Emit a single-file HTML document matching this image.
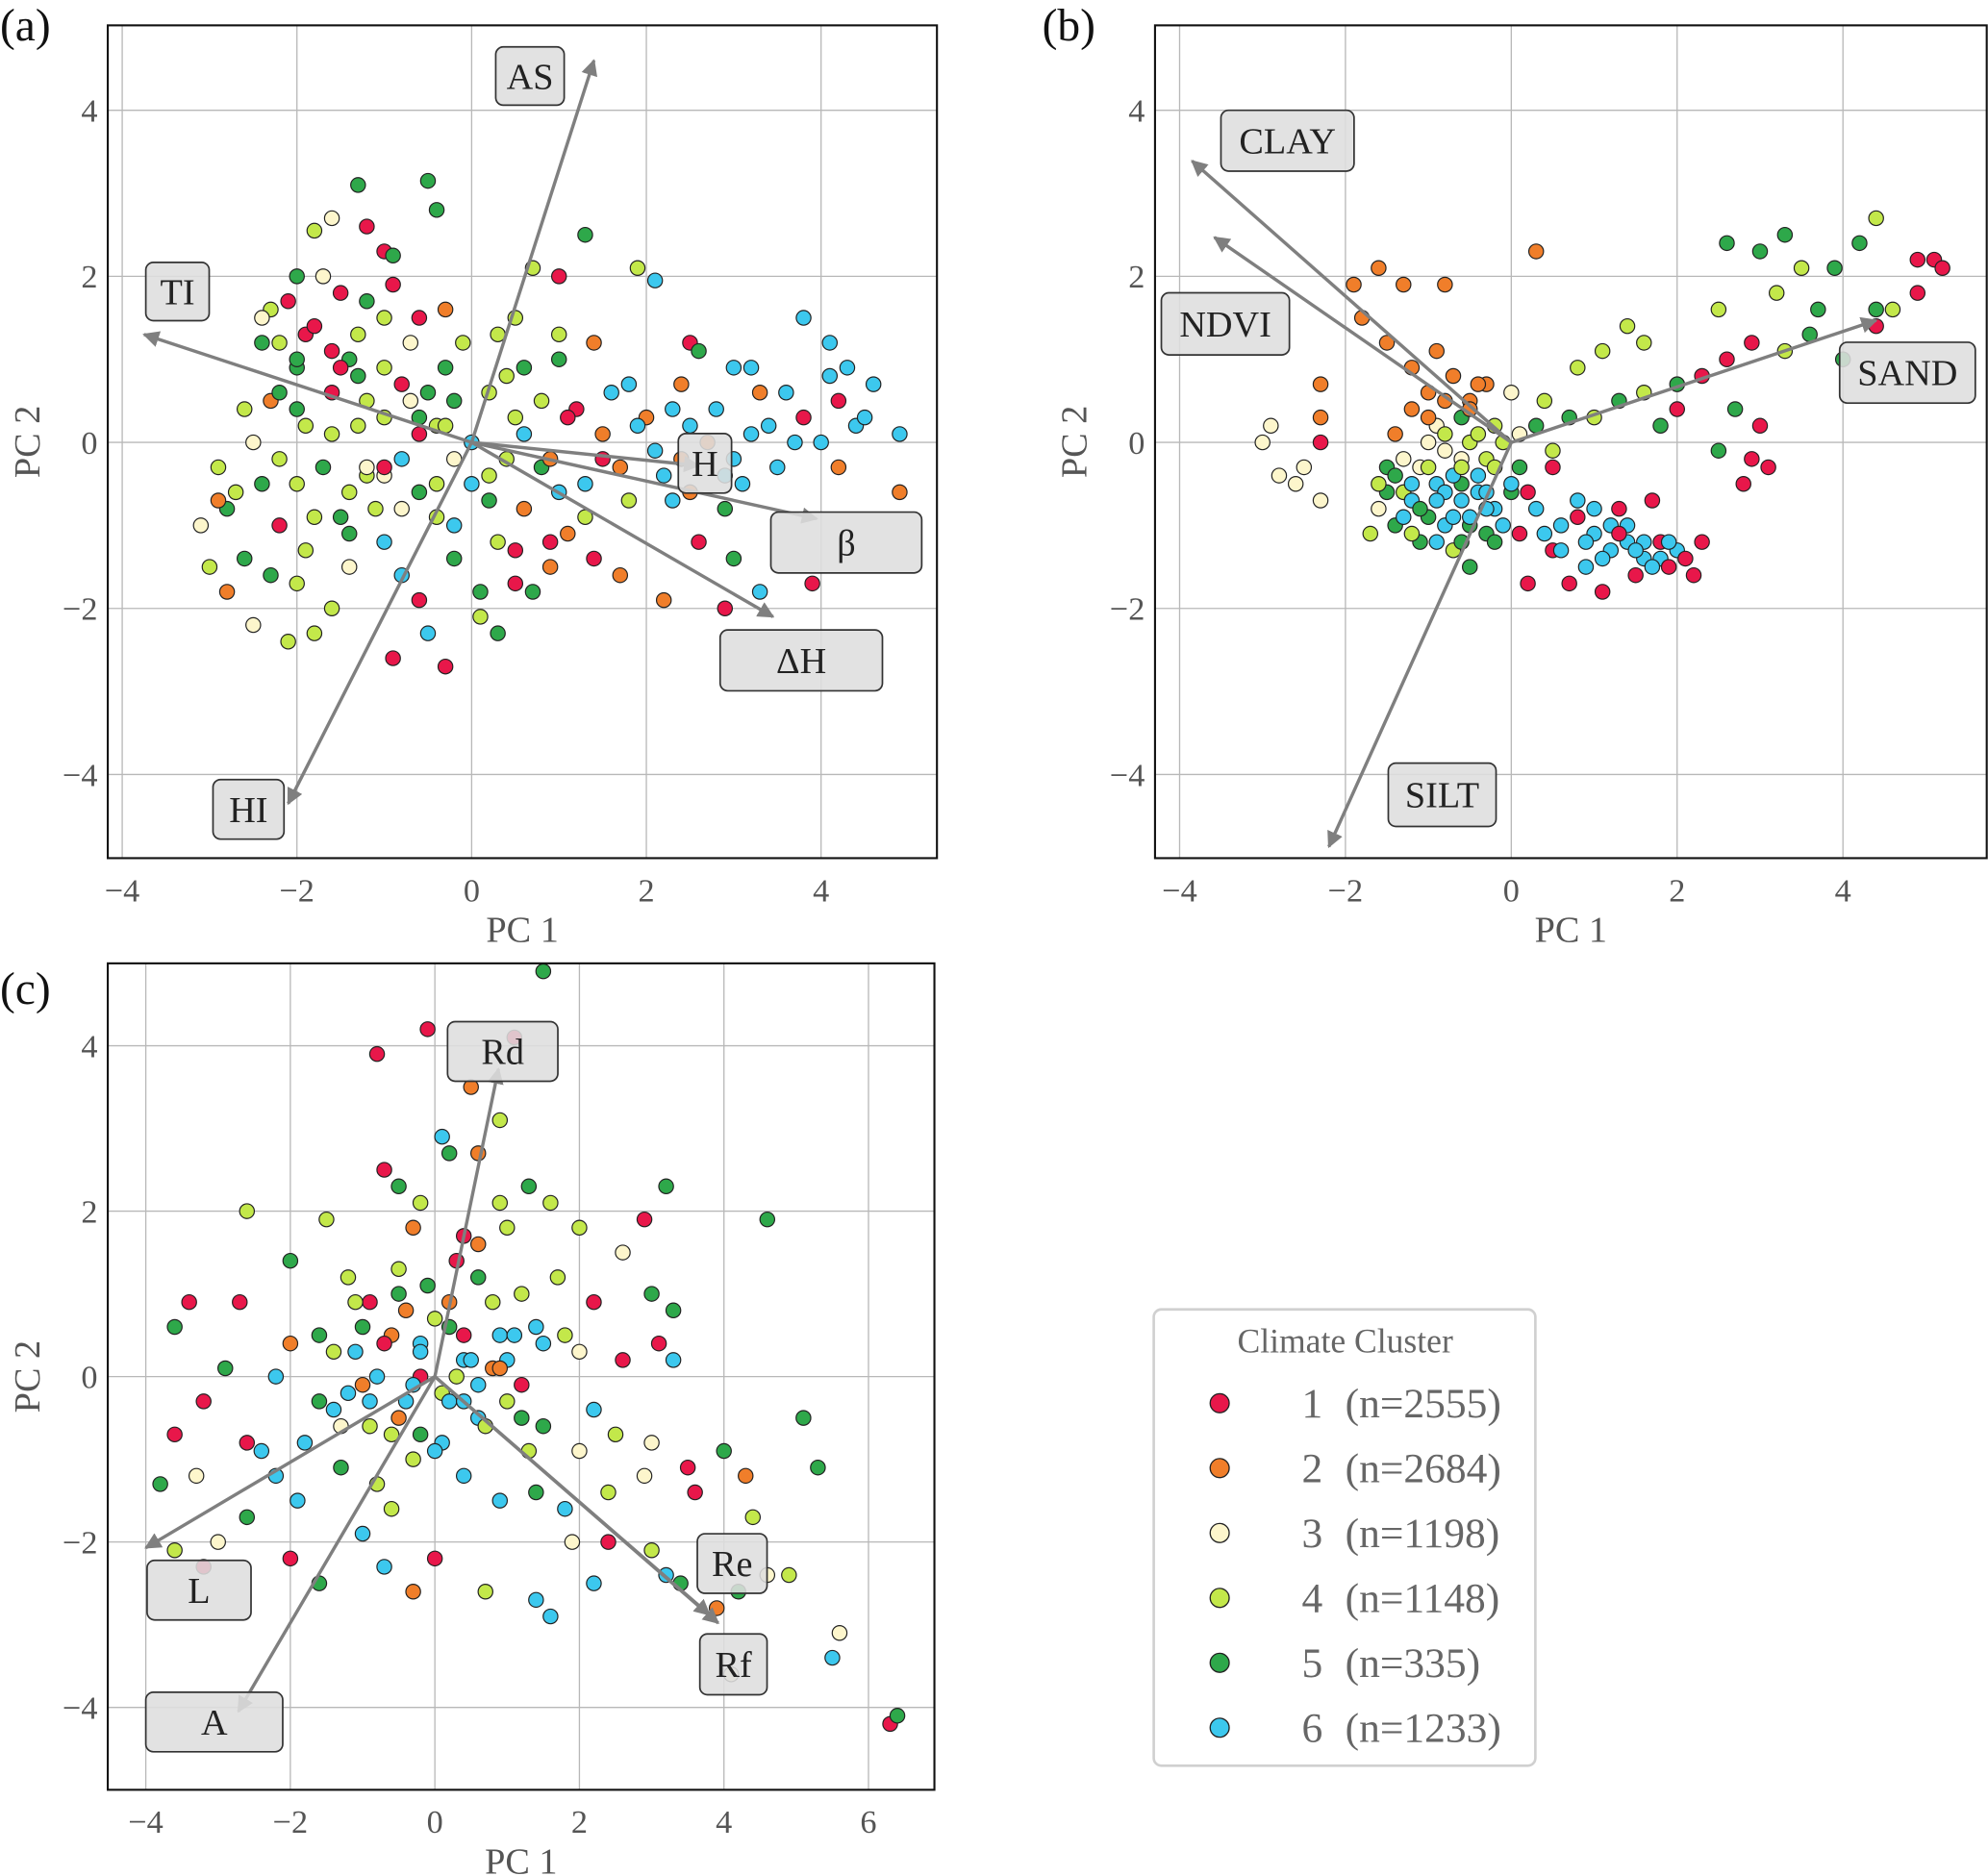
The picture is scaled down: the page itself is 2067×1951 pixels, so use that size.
<!DOCTYPE html>
<html><head><meta charset="utf-8">
<style>
html,body{margin:0;padding:0;background:#fff}
svg{display:block;font-family:"Liberation Serif",serif}
</style></head>
<body>
<svg id="fig" width="2067" height="1951" viewBox="0 0 1568 1480" xmlns="http://www.w3.org/2000/svg">
<defs>
<marker id="ah" viewBox="0 0 10 10" refX="9" refY="5" markerWidth="5" markerHeight="5" orient="auto-start-reverse">
<path d="M0,0 L10,5 L0,10 z" fill="#7f7f7f"/></marker>
</defs>
</svg>
<script>
const colors=["#e8174a","#f07e2a","#fdf6cc","#c3e84a","#2ea84a","#3cc8ee"];
// Panel (a) data
const aX=[-1.3,-0.5,-0.4,-1.6,-1.2,-1.8,-1.0,-0.9,1.3,-2.0,-2.3,-1.5,-1.2,-0.6,-0.3,0.5,0.7,1.0,1.9,2.1,1.4,1.0,2.5,2.6,3.2,3.0,3.8,4.1,4.3,4.6,4.4,4.9,3.8,4.2,4.9,3.5,3.2,2.3,1.8,2.0,1.5,1.2,2.2,2.9,3.0,2.6,3.9,3.3,2.9,2.2,1.7,1.4,0.7,0.3,-0.3,-0.9,-0.5,0.1,0.5,-0.2,-1.0,-1.4,-1.6,-1.8,-2.1,-2.5,-2.8,-3.0,-3.1,-2.8,-2.6,-2.2,-2.0,-1.7,-2.5,-2.9,-2.3,-2.0,-1.6,-1.3,-1.0,-0.7,-0.3,0.2,0.0,0.4,0.8,1.0,0.6,0.2,-0.4,-0.8,-1.2,0.9,1.3,1.8,2.4,2.8,3.6,-2.4,-1.9,-2.2,-1.5,-0.6,0.5,1.1,-0.2,0.9,2.5,3.0,4.0,-1.0,-0.1,0.6,
-2.2,-2.0,-1.8,-1.6,-1.4,-1.2,-1.0,-0.8,-0.6,-0.4,-0.2,0.2,0.4,0.6,0.8,
-2.6,-2.4,-2.2,-2.0,-1.8,-1.6,-1.4,-1.2,-1.0,-0.8,-0.6,-0.4,-0.2,0.0,0.3,
-2.7,-2.3,-1.9,-1.5,-1.1,-0.7,-0.3,0.1,0.5,0.9,1.3,1.7,2.1,2.5,2.9,3.3,3.7,4.1,4.5,
3.1,2.7,2.3,1.9,1.5,1.1,
-2.1,-1.7,-1.3,-0.9,-0.5,
-2.4,-1.4,-0.6,0.3,1.0,1.6,2.4,3.4,4.2,
-1.9,-1.3,-0.8,-2.9,-2.0,-1.0];
const aY=[3.1,3.15,2.8,2.7,2.6,2.55,2.3,2.25,2.5,2.0,1.6,1.8,1.7,1.5,1.6,1.5,2.1,2.0,2.1,1.95,1.2,1.0,1.2,1.1,0.9,0.9,1.5,1.2,0.9,0.7,0.2,0.1,0.3,-0.3,-0.6,-0.3,0.1,0.4,0.7,0.3,0.1,0.4,-0.4,-0.8,-1.4,-1.2,-1.7,-1.8,-2.0,-1.9,-1.6,-1.4,-1.8,-2.3,-2.7,-2.6,-2.3,-2.1,-1.7,-1.4,-1.2,-1.5,-2.0,-2.3,-2.4,-2.2,-1.8,-1.5,-1.0,-0.8,-1.4,-1.0,-0.5,-0.3,0.0,-0.3,0.5,0.9,0.6,0.2,0.9,0.5,0.9,0.6,0.0,-0.2,-0.3,-0.6,-0.8,-0.7,-0.5,-0.8,-0.4,-1.2,-0.9,-0.7,-0.2,0.4,0.6,1.2,1.3,0.6,-0.9,0.1,0.3,0.3,-1.0,-1.5,-0.6,-0.2,0.0,1.5,1.2,0.9,
1.2,0.4,1.4,0.1,1.0,-0.3,0.3,0.7,-0.6,0.2,-0.2,-0.4,0.8,0.1,0.5,
0.4,-0.5,-0.2,1.0,-0.9,1.1,-1.1,0.5,-0.4,-0.2,0.3,-0.9,0.5,-0.5,-1.2,
-0.6,-1.6,-1.3,0.9,-0.8,1.2,0.2,-1.8,-1.3,-0.2,-0.5,-0.3,-0.1,0.2,-0.4,0.6,0.0,0.8,0.3,
-0.5,0.0,-0.7,0.2,-0.2,-1.1,
1.7,2.0,1.3,1.9,0.6,
1.5,-0.6,-1.9,1.3,1.3,0.6,0.7,0.2,0.5,
0.2,0.8,-1.6,-0.7,-1.7,-0.3];
const aC=[5,5,5,3,1,4,1,5,5,5,4,1,5,1,2,4,4,1,4,6,2,5,1,5,6,6,6,6,6,6,6,6,1,2,2,6,6,6,6,2,2,1,6,5,5,1,1,6,1,2,2,1,5,5,1,1,6,4,1,5,6,3,4,4,4,3,2,4,3,5,5,1,4,5,3,4,2,5,1,4,4,3,5,4,6,4,5,6,2,5,4,3,4,1,4,4,2,6,6,5,1,5,5,1,4,1,6,2,2,6,6,4,4,5,
4,5,1,4,5,3,4,1,5,4,3,4,4,6,4,
4,5,4,5,4,1,5,4,3,6,5,4,5,6,4,
4,5,4,1,4,3,4,5,1,2,6,2,6,6,6,2,6,6,6,
6,2,6,6,1,2,
1,3,4,1,5,
3,4,1,4,4,6,2,6,1,
4,5,6,2,4,1];
// Panel (b) data
const bX=[-3.0,-2.8,-2.5,-2.3,-2.6,-2.9,-2.3,-2.3,-2.3,-1.9,-1.6,-1.3,-0.8,-1.8,-1.5,-1.2,-0.9,-0.7,-1.0,-0.5,-0.3,0.3,0.0,-0.2,-0.5,-0.8,-1.1,-1.3,-1.6,-1.4,-1.1,-0.8,-0.6,-0.4,-0.2,-0.9,-1.2,-0.7,-1.0,-0.3,0.1,0.2,-1.5,-1.7,-0.5,-0.1,-0.6,0.3,0.5,0.7,0.4,0.3,0.6,0.8,1.0,1.2,1.4,1.6,1.8,2.0,0.9,0.7,1.1,1.5,1.9,2.2,0.2,0.5,1.3,0.1,2.3,1.7,0.8,1.1,1.4,1.6,1.3,1.0,1.8,2.0,2.3,2.6,2.7,2.6,3.0,3.3,3.5,3.2,2.5,2.9,3.3,3.7,3.9,4.4,4.2,4.4,4.4,3.6,4.0,4.6,4.9,5.1,5.2,4.9,2.9,2.8,3.1,2.5,3.0,2.0,1.6,-1.4,0.0,-0.3,-0.9,
-1.4,-1.2,-1.0,-0.8,-0.6,-0.4,-0.2,0.0,
-1.3,-1.1,-0.9,-0.7,-0.5,-0.3,-0.1,
-1.5,-1.2,-0.9,-0.6,-0.3,
-1.0,-0.8,-0.6,-0.4,
-0.7,-0.5,
-1.3,-0.2,
0.6,0.8,1.0,1.2,1.4,1.6,1.8,
0.9,1.1,1.3,1.5,1.7,1.9,
0.5,0.4,2.1,
-1.6,-1.0,-0.5,-0.8,-1.2,-0.4,0.1,-0.6];
const bY=[0.0,-0.4,-0.3,-0.7,-0.5,0.2,0.0,0.3,0.7,1.9,2.1,1.9,1.9,1.5,1.2,0.9,1.1,0.8,0.6,0.5,0.7,2.3,0.6,0.2,0.0,-0.1,-0.3,-0.6,-0.8,-1.0,-1.2,-1.0,-0.7,-0.4,-0.8,-0.5,-0.7,-1.3,-0.9,-1.1,-0.3,-0.6,-0.3,-1.1,-1.5,0.0,0.3,0.2,-0.1,0.3,0.5,-0.8,-1.0,-0.7,-1.1,-1.3,-1.0,-1.2,-1.4,-1.3,-1.5,-1.7,-1.8,-1.6,-1.5,-1.6,-1.7,-1.3,-0.8,-1.1,-1.2,-0.7,0.9,1.1,1.4,0.6,0.5,0.3,0.2,0.7,0.8,1.0,0.4,2.4,2.3,2.5,2.1,1.8,1.6,1.2,1.1,1.6,2.1,2.7,2.4,1.6,1.4,1.3,1.0,1.6,2.2,2.2,2.1,1.8,-0.2,-0.5,-0.3,-0.1,0.2,0.4,1.2,0.1,-0.6,-0.2,0.2,
-0.4,-0.5,-0.3,-0.6,-0.5,-0.6,-0.3,-0.5,
-0.9,-0.8,-0.7,-0.9,-1.0,-0.8,-1.0,
-0.6,-1.1,-1.2,-1.2,-0.6,
0.0,0.1,-0.2,0.1,
-0.4,-0.9,
-0.2,-1.2,
-1.3,-0.9,-0.8,-1.0,-1.2,-1.4,-1.2,
-1.2,-1.4,-1.1,-1.3,-1.5,-1.2,
-0.3,-1.1,-1.4,
-0.5,0.3,0.4,0.5,0.4,0.7,0.1,-0.3];
const bC=[3,3,3,3,3,3,1,2,2,2,2,2,2,2,2,2,2,2,2,2,2,2,3,4,4,3,3,4,3,5,5,6,6,6,6,6,6,4,5,5,5,1,5,4,5,4,5,5,4,5,4,6,6,6,6,6,6,6,6,6,6,1,1,1,1,1,1,1,1,1,1,1,4,4,4,4,5,4,5,5,1,1,5,5,5,5,4,4,4,1,4,5,5,4,5,5,1,5,5,4,1,1,1,1,1,1,1,5,1,1,4,2,5,4,3,
5,6,4,6,5,6,4,6,
6,5,6,6,5,6,6,
5,4,6,5,6,
3,4,3,4,
6,6,
3,5,
6,1,6,6,6,6,1,
6,6,1,6,6,6,
1,6,1,
4,2,2,2,2,2,3,4];
// Panel (c) data
const cX=[1.5,-0.8,-0.1,1.1,0.5,0.9,0.1,0.6,0.2,-0.7,-0.5,0.9,1.3,1.6,3.2,4.6,-2.6,-1.5,-0.3,0.4,1.0,2.0,2.9,2.6,-3.4,-3.6,-2.7,-2.0,-1.2,-0.9,-0.5,0.2,0.6,1.2,1.7,2.2,3.0,3.3,3.1,3.3,2.0,1.5,0.9,0.4,-0.2,-0.6,-1.1,-1.6,-2.2,-2.9,-3.2,-3.6,-3.8,-3.3,-2.6,-2.2,-1.8,-1.4,-0.9,-0.4,0.1,0.6,1.0,1.5,2.0,2.5,3.0,3.5,4.0,4.3,5.1,5.3,3.6,2.9,2.4,1.8,1.4,0.9,0.4,-0.3,-0.8,-1.3,-1.9,-2.6,-3.0,-3.6,-3.2,-2.0,-1.6,-1.0,-0.7,-0.3,0.0,0.7,1.4,1.6,2.2,3.0,3.2,3.4,4.2,4.4,4.6,4.9,5.6,5.5,6.3,6.4,4.1,3.9,2.4,1.9,-0.2,0.3,-0.5,0.8,-1.0,1.2,-0.2,0.2,
-1.4,-1.2,-1.0,-0.8,-0.6,-0.4,-0.2,0.0,0.2,0.4,0.6,0.8,1.0,1.2,1.4,
-1.3,-1.1,-0.9,-0.7,-0.5,-0.3,-0.1,0.1,0.3,0.5,0.7,0.9,1.1,1.3,
-2.4,-2.0,-1.6,1.8,2.2,2.6,
-0.6,0.0,0.6,-0.2,0.4];
const cY=[4.9,3.9,4.2,4.1,3.5,3.1,2.9,2.7,2.7,2.5,2.3,2.1,2.3,2.1,2.3,1.9,2.0,1.9,1.8,1.7,1.8,1.8,1.9,1.5,0.9,0.6,0.9,1.4,1.2,0.9,1.0,0.9,1.2,1.0,1.2,0.9,1.0,0.8,0.4,0.2,0.3,0.4,0.5,0.2,0.4,0.5,0.3,0.5,0.0,0.1,-0.3,-0.7,-1.3,-1.2,-0.8,-1.2,-0.8,-0.4,-0.6,-0.3,-0.2,-0.5,-0.3,-0.6,-0.9,-0.7,-0.8,-1.1,-0.9,-1.2,-0.5,-1.1,-1.4,-1.2,-1.4,-1.6,-1.4,-1.5,-1.2,-1.0,-1.3,-1.1,-1.5,-1.7,-2.0,-2.1,-2.3,-2.2,-2.5,-1.9,-2.3,-2.6,-2.2,-2.6,-2.7,-2.9,-2.5,-2.1,-2.4,-2.5,-2.6,-1.7,-2.4,-2.4,-3.1,-3.4,-4.2,-4.1,-3.6,-2.8,-2.0,-2.0,0.0,0.0,-0.5,0.1,-0.1,-0.1,-0.7,0.6,
0.3,-0.2,0.6,0.0,-0.7,0.8,0.3,0.7,-0.3,0.5,-0.1,0.9,0.2,-0.5,0.6,
-0.6,0.9,-0.3,0.4,1.3,-0.1,1.1,-0.8,1.4,0.2,-0.6,0.1,0.5,-0.9,
-0.9,0.4,-0.3,0.5,-0.4,0.2,
-1.6,-0.9,1.6,2.1,-0.3];
const cC=[5,1,1,1,2,4,6,2,5,1,5,4,5,4,5,5,4,4,2,1,4,4,1,3,1,5,1,5,4,1,5,2,5,4,4,1,5,5,1,6,3,6,6,6,6,2,6,5,6,5,1,1,5,3,1,6,6,6,4,6,4,6,4,5,3,4,3,1,5,2,5,5,1,3,4,6,5,6,6,4,4,5,6,5,3,4,1,1,5,6,6,2,1,4,6,6,6,4,6,5,5,4,3,4,3,6,1,5,3,2,1,3,1,4,2,2,2,1,5,5,
4,6,5,6,4,2,6,4,6,1,6,4,6,5,6,
3,4,6,1,4,6,5,6,1,6,4,2,6,4,
6,2,5,4,6,1,
4,6,2,4,6];
// arrows: endpoints in PC units
const aArrowNames=["AS","TI","HI","H","β","ΔH"];
const aArrowX=[1.4,-3.75,-2.1,2.6,3.95,3.45];
const aArrowY=[4.6,1.3,-4.35,-0.28,-0.92,-2.1];
const bArrowNames=["CLAY","NDVI","SAND","SILT"];
const bArrowX=[-3.85,-3.58,4.4,-2.2];
const bArrowY=[3.39,2.47,1.47,-4.87];
const cArrowNames=["Rd","L","A","Re","Rf"];
const cArrowX=[0.88,-4.0,-2.72,3.8,3.92];
const cArrowY=[3.72,-2.07,-4.05,-2.88,-2.98];
const legendNums=["1","2","3","4","5","6"];
const legendCounts=["(n=2555)","(n=2684)","(n=1198)","(n=1148)","(n=335)","(n=1233)"];
const xTicksAB=[-4,-2,0,2,4];
const xTicksC=[-4,-2,0,2,4,6];
const yTicks=[-4,-2,0,2,4];

const NS="http://www.w3.org/2000/svg";
const svg=document.getElementById('fig');
function mk(tag,attrs,parent){const e=document.createElementNS(NS,tag);for(const k in attrs)e.setAttribute(k,attrs[k]);(parent||svg).appendChild(e);return e;}
function tx(str,attrs,parent){const e=mk('text',attrs,parent);e.textContent=str;return e;}

function panel(p){
  const g=mk('g',{});
  
  
  const X=v=>p.x0+(v)*p.sx, Y=v=>p.y0-(v)*p.sy;
  p.xt.forEach(t=>{const l=mk('line',{x1:X(t),x2:X(t),y1:p.top,y2:p.bot,stroke:'#b8b8b8','stroke-width':1},g);
    
    
    const tt=tx(t<0?'\u2212'+(-t):''+t,{x:X(t),y:p.bot+34,'text-anchor':'middle','font-size':26,fill:'#555'},g);
    
    });
  yTicks.forEach(t=>{const l=mk('line',{x1:p.left,x2:p.right,y1:Y(t),y2:Y(t),stroke:'#b8b8b8','stroke-width':1},g);
    
    
    const tt=tx(t<0?'\u2212'+(-t):''+t,{x:p.left-8,y:Y(t)+9,'text-anchor':'end','font-size':26,fill:'#555'},g);
    
    });
  p.px.forEach((v,i)=>{const k=p.pc[i]||4;
    const c=mk('circle',{cx:X(v),cy:Y(p.py[i]),r:5.8,fill:colors[k-1],stroke:'#222','stroke-width':0.9},g);
    
    });
  p.an.forEach((n,i)=>{const l=mk('line',{x1:X(0),y1:Y(0),x2:X(p.ax[i]),y2:Y(p.ay[i]),stroke:'#7f7f7f','stroke-width':2.6,'marker-end':'url(#ah)'},g);
    
    });
  p.boxes.forEach((b,i)=>{const r=mk('rect',{x:b[0],y:b[1],width:b[2]-b[0],height:b[3]-b[1],rx:6,fill:'#dedede','fill-opacity':0.88,stroke:'#333','stroke-width':1.3},g);
    
    
    const t=tx(p.an[i],{x:(b[0]+b[2])/2,y:(b[1]+b[3])/2+10,'text-anchor':'middle','font-size':29,fill:'#222'},g);
    
    });
  const fr=mk('rect',{x:p.left,y:p.top,width:p.right-p.left,height:p.bot-p.top,fill:'none',stroke:'#111','stroke-width':1.6},g);
  
  
  const xl=tx('PC 1',{x:(p.left+p.right)/2,y:p.bot+66,'text-anchor':'middle','font-size':29,fill:'#555'},g);
  
  
  const yl=tx('PC 2',{x:0,y:0,transform:`translate(${p.left-54},${(p.top+p.bot)/2}) rotate(-90)`,'text-anchor':'middle','font-size':29,fill:'#555'},g);
  
  
  const pl=tx('('+p.id+')',{x:p.lx,y:p.ly,'font-size':36,fill:'#111'},g);
  
  
}
panel({id:'a',left:85,right:739,top:20,bot:677,x0:372,y0:349,sx:68.9,sy:65.5,xt:xTicksAB,px:aX,py:aY,pc:aC,
  an:aArrowNames,ax:aArrowX,ay:aArrowY,lx:0,ly:32,
  boxes:[[391,37,445,83],[115,207,165,253],[168,615,224,662],[535,342,577,389],[608,404,727,452],[568,497,696,545]]});
panel({id:'b',left:911,right:1567,top:20,bot:677,x0:1192,y0:349,sx:65.4,sy:65.5,xt:xTicksAB,px:bX,py:bY,pc:bC,
  an:bArrowNames,ax:bArrowX,ay:bArrowY,lx:822,ly:32,
  boxes:[[963,87,1068,135],[916,231,1017,280],[1451,270,1558,318],[1095,602,1180,652]]});
panel({id:'c',left:85,right:737,top:760,bot:1412,x0:343,y0:1086,sx:57,sy:65.25,xt:xTicksC,px:cX,py:cY,pc:cC,
  an:cArrowNames,ax:cArrowX,ay:cArrowY,lx:0,ly:792,
  boxes:[[353,806,440,853],[116,1231,198,1278],[115,1335,223,1382],[550,1210,605,1257],[552,1289,605,1337]]});

const lg=mk('g',{});


const lr=mk('rect',{x:910,y:1033,width:301,height:360,rx:6,fill:'#fff',stroke:'#d0d0d0','stroke-width':2},lg);


const lt=tx('Climate Cluster',{x:1061,y:1067,'text-anchor':'middle','font-size':27,fill:'#666'},lg);


legendNums.forEach((s,i)=>{const y=1107+i*51.2;
  const c=mk('circle',{cx:962,cy:y,r:7.5,fill:colors[i],stroke:'#222','stroke-width':1},lg);
  
  
  const n=tx(s,{x:1035,y:y+11,'text-anchor':'middle','font-size':33,fill:'#666'},lg);
  
  
  const t=tx(legendCounts[i],{x:1061,y:y+11,'font-size':33,fill:'#666'},lg);
  
  });
</script>
</body></html>
